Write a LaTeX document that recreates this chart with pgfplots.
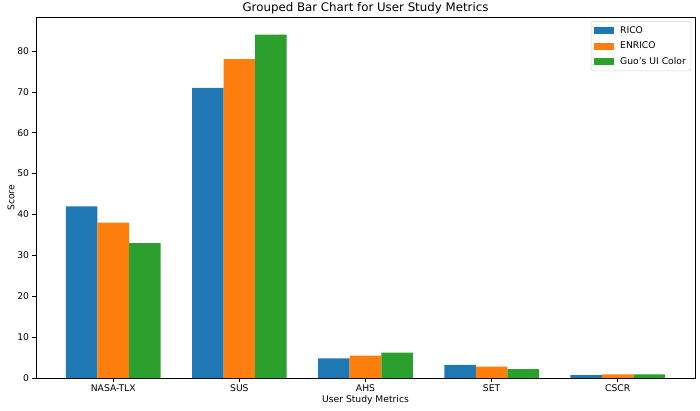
\documentclass[border=0pt]{standalone}
\usepackage{pgfplots}
\pgfplotsset{compat=1.18}
\usepackage{fontspec}
\setmainfont{DejaVu Sans}

\definecolor{tabblue}{HTML}{1F77B4}
\definecolor{taborange}{HTML}{FF7F0E}
\definecolor{tabgreen}{HTML}{2CA02C}

\begin{document}
\begin{tikzpicture}
  \begin{axis}[
    scale only axis,
    width=659pt, height=360.5pt,
    xmin=-0.6125, xmax=4.6125,
    ymin=0, ymax=88.2,
    xtick={0,1,2,3,4},
    xticklabels={NASA-TLX,SUS,AHS,SET,CSCR},
    ytick={0,10,20,30,40,50,60,70,80},
    xtick pos=bottom, ytick pos=left,
    tick align=outside,
    major tick length=3.5pt,
    tick style={black, line width=0.6pt},
    axis line style={line width=0.7pt},
    ticklabel style={font=\fontsize{9.2}{10}\selectfont},
    /pgf/number format/assume math mode=true,
    xlabel={User Study Metrics},
    ylabel={Score},
    label style={font=\fontsize{9.2}{10}\selectfont},
    xlabel style={yshift=3pt},
    ylabel style={yshift=-4pt},
    title={Grouped Bar Chart for User Study Metrics},
    title style={font=\fontsize{11.8}{13}\selectfont, yshift=-6pt},
    legend style={at={(1,1)}, anchor=north east, xshift=-4pt, yshift=-4pt,
      draw=gray!35, rounded corners=2pt, font=\fontsize{9.2}{10}\selectfont,
      row sep=3pt, column sep=4pt, inner xsep=3pt, inner ysep=3pt},
    legend cell align=left,
    legend image code/.code={\fill[#1, sharp corners] (0pt,-3.5pt) rectangle (20pt,3.5pt);},
  ]
    \addplot[ybar, bar width=0.25, bar shift=-0.25, fill=tabblue, draw=none]
      coordinates {(0,42) (1,71) (2,4.8) (3,3.2) (4,0.7)};
    \addplot[ybar, bar width=0.25, bar shift=0, fill=taborange, draw=none]
      coordinates {(0,38) (1,78) (2,5.5) (3,2.8) (4,0.9)};
    \addplot[ybar, bar width=0.25, bar shift=0.25, fill=tabgreen, draw=none]
      coordinates {(0,33) (1,84) (2,6.2) (3,2.2) (4,0.9)};
    \legend{RICO,ENRICO,Guo's UI Color}
  \end{axis}
  \pgfresetboundingbox
  \path[use as bounding box] (current axis.south west) ++(-36pt,-32pt) rectangle ++(700pt,410pt);
\end{tikzpicture}
\end{document}
